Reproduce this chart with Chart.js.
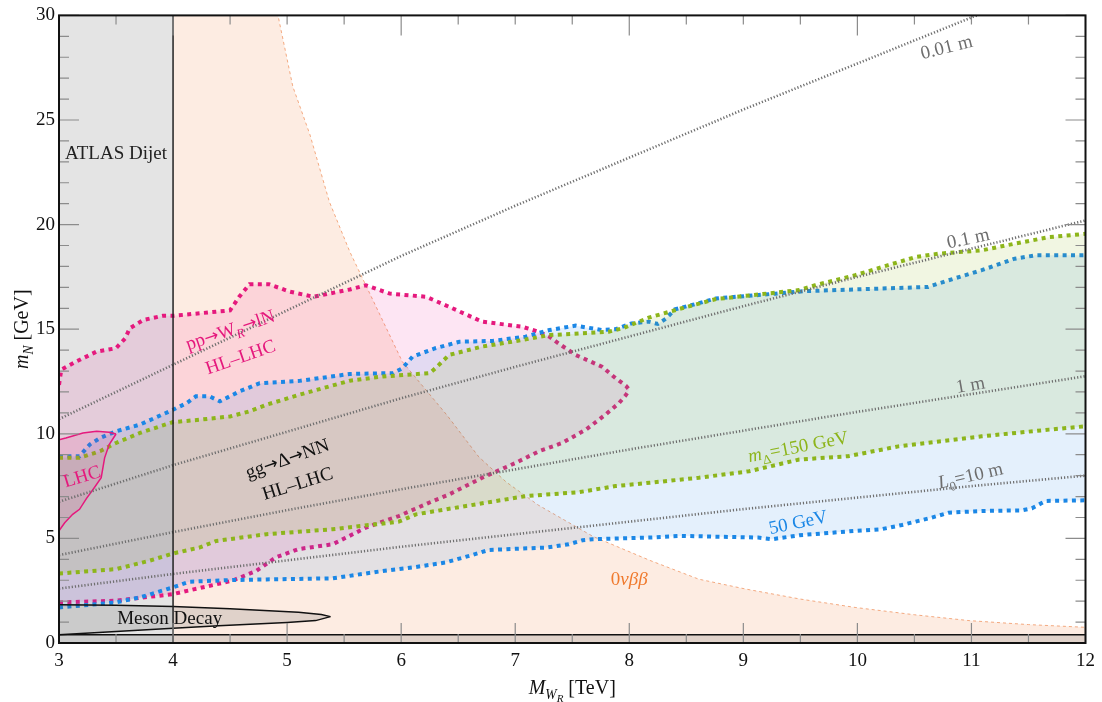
<!DOCTYPE html>
<html>
<head>
<meta charset="utf-8">
<script src="https://cdn.jsdelivr.net/npm/chart.js@4.4.1/dist/chart.umd.min.js"></script>
<style>
  html, body { margin: 0; padding: 0; background: #fff; }
  #wrap { width: 1102px; height: 702px; }
</style>
</head>
<body>
<div id="wrap"><canvas id="limits_chart" width="1102" height="702"></canvas></div>
<script>
// ---- data (x = M_WR in TeV, y = m_N in GeV) ----
const x_ticks = [3, 4, 5, 6, 7, 8, 9, 10, 11, 12];
const y_ticks = [0, 5, 10, 15, 20, 25, 30];

const atlas_x = [3, 4];
const atlas_y = [30, 30];

const onbb_x = [4, 4.92, 5.05, 5.2, 5.37, 5.55, 6.01, 6.4, 6.68, 6.92, 7.2, 7.68, 8.18, 8.61, 9.02, 9.5, 9.98, 10.5, 10.98, 11.5, 12];
const onbb_y = [30, 30, 26.6, 24.3, 21.1, 18.7, 13.45, 10.9, 8.9, 7.7, 6.6, 5.1, 3.95, 3.05, 2.58, 2.1, 1.7, 1.35, 1.07, 0.88, 0.75];

const floor_x = [3, 12];
const floor_y = [0.4, 0.4];

const meson_up_x = [3, 3.5, 4, 4.5, 5.1, 5.3, 5.38];
const meson_up_y = [1.83, 1.8, 1.74, 1.64, 1.47, 1.36, 1.26];
const meson_lo_x = [3, 3.5, 4, 4.4, 5.0, 5.25, 5.38];
const meson_lo_y = [0.4, 0.55, 0.7, 0.82, 0.98, 1.07, 1.26];

const pp_up_x = [3, 3.02, 3.15, 3.33, 3.5, 3.58, 3.62, 3.74, 3.91, 4, 4.5, 4.58, 4.67, 4.84, 5.02, 5.23, 5.55, 5.69, 5.9, 6.22, 6.42, 6.71, 7.06, 7.2, 7.3, 7.38, 7.53, 7.76, 7.88, 7.97, 8];
const pp_up_y = [12.34, 13.07, 13.45, 13.93, 14.09, 14.56, 15.04, 15.44, 15.64, 15.64, 15.9, 16.55, 17.15, 17.15, 16.8, 16.55, 16.9, 17.1, 16.7, 16.55, 16.07, 15.36, 15.12, 14.88, 14.64, 14.32, 13.77, 13.21, 12.66, 12.3, 12.1];
const pp_lo_x = [3, 3.5, 4, 4.52, 4.73, 4.9, 5.1, 5.4, 5.69, 5.81, 5.98, 6.28, 6.42, 6.71, 7.0, 7.21, 7.41, 7.62, 7.79, 7.91, 7.97, 8];
const pp_lo_y = [1.94, 2.02, 2.34, 2.98, 3.45, 4.09, 4.49, 4.72, 5.51, 5.75, 6.07, 6.79, 7.1, 7.9, 8.6, 9.17, 9.56, 10.2, 10.91, 11.47, 11.85, 12.1];

const lhc_up_x = [3, 3.06, 3.21, 3.33, 3.44, 3.5];
const lhc_up_y = [9.72, 9.8, 10.04, 10.12, 10.07, 9.99];
const lhc_lo_x = [3, 3.05, 3.12, 3.18, 3.24, 3.3, 3.37, 3.4, 3.44, 3.5];
const lhc_lo_y = [5.36, 5.75, 6.15, 6.39, 6.9, 7.35, 7.9, 8.85, 9.49, 9.99];

const blue_up_x = [3, 3.18, 3.27, 3.36, 3.5, 3.71, 4, 4.12, 4.2, 4.32, 4.41, 4.58, 4.76, 5.11, 5.55, 5.93, 6.01, 6.1, 6.3, 6.51, 6.8, 7.09, 7.3, 7.53, 7.76, 7.88, 8.02, 8.17, 8.25, 8.32, 8.4, 8.58, 8.76, 9.28, 9.54, 10.62, 10.8, 11.09, 11.38, 11.56, 12];
const blue_up_y = [8.93, 8.93, 9.49, 9.8, 10.12, 10.44, 11.15, 11.47, 11.79, 11.79, 11.55, 12.02, 12.42, 12.53, 12.86, 12.9, 13.13, 13.69, 14.09, 14.4, 14.44, 14.64, 14.96, 15.17, 14.96, 15.0, 15.28, 15.36, 15.25, 15.5, 15.95, 16.2, 16.47, 16.7, 16.82, 17.02, 17.34, 17.82, 18.37, 18.53, 18.53];
const blue_lo_x = [3, 3.36, 3.5, 3.71, 4, 4.14, 4.52, 4.82, 5.4, 5.81, 6.1, 6.39, 6.6, 6.77, 7.27, 7.47, 7.59, 7.68, 8.18, 8.46, 9.13, 9.25, 9.49, 9.98, 10.21, 10.39, 10.65, 10.8, 11.09, 11.44, 11.53, 11.65, 12];
const blue_lo_y = [1.7, 1.87, 1.94, 2.18, 2.66, 2.93, 3.01, 3.04, 3.09, 3.42, 3.61, 3.85, 4.17, 4.45, 4.56, 4.72, 4.91, 4.96, 5.04, 5.12, 5.04, 4.96, 5.15, 5.36, 5.44, 5.64, 5.99, 6.23, 6.31, 6.34, 6.44, 6.79, 6.82];

const green_up_x = [3, 3.18, 3.36, 3.5, 3.71, 4, 4.23, 4.5, 4.67, 4.82, 5.11, 5.55, 5.84, 6.25, 6.3, 6.42, 6.71, 7.06, 7.3, 7.59, 7.82, 7.94, 8.17, 8.46, 8.76, 9.49, 9.63, 9.98, 10.27, 10.51, 10.71, 11.09, 11.38, 11.68, 12];
const green_up_y = [8.85, 8.85, 9.17, 9.56, 10.04, 10.56, 10.67, 10.83, 11.07, 11.39, 11.87, 12.54, 12.74, 12.9, 13.13, 13.77, 14.17, 14.48, 14.72, 14.8, 14.88, 15.04, 15.55, 16.0, 16.44, 16.87, 17.1, 17.58, 18.06, 18.45, 18.61, 18.77, 19.09, 19.4, 19.56];
const green_lo_x = [3, 3.5, 3.79, 4, 4.23, 4.38, 4.82, 5.4, 5.98, 6.13, 6.57, 7.09, 7.56, 7.88, 8.18, 8.61, 9.05, 9.49, 9.92, 10.36, 11.09, 11.68, 12];
const green_lo_y = [3.32, 3.53, 3.93, 4.28, 4.56, 4.88, 5.2, 5.44, 5.8, 6.15, 6.55, 7.02, 7.21, 7.5, 7.66, 7.9, 8.21, 8.77, 8.93, 9.4, 9.88, 10.2, 10.36];

// decay-length contours, read at whole TeV steps
const len_x = [3, 4, 5, 6, 7, 8, 9, 10, 11, 12];
const len_001m = [10.7, 13.3, 15.9, 18.5, 20.9, 23.2, 25.5, 27.7, 29.9, 32.0];
const len_01m = [6.75, 8.5, 10.1, 11.7, 13.2, 14.65, 16.1, 17.5, 18.85, 20.2];
const len_1m = [4.2, 5.3, 6.35, 7.35, 8.3, 9.25, 10.15, 11.05, 11.9, 12.75];
const len_10m = [2.6, 3.3, 3.95, 4.6, 5.2, 5.8, 6.4, 6.95, 7.5, 8.0];

// ---- styles ----
const SERIF = '"Liberation Serif", "DejaVu Serif", serif';
const ARROW_FONT = '"DejaVu Sans", sans-serif';
const PINK = "#e5197d";
const BLUE = "#1b87e6";
const GREEN = "#8db51b";
const GREY_LINE = "#6f6f6f";

function pts(xs, ys) {
  return xs.map((x, i) => ({ x: x, y: ys[i] }));
}

const datasets = [];
function add(xs, ys, style) {
  datasets.push(
    Object.assign(
      {
        data: pts(xs, ys),
        pointRadius: 0,
        borderWidth: 0,
        borderColor: "rgba(0,0,0,0)",
        backgroundColor: "rgba(0,0,0,0)",
        fill: false,
        tension: 0,
      },
      style
    )
  );
}

const dotted = (color) => ({ borderColor: color, borderWidth: 4, borderDash: [4, 4.4] });
const hairDots = { borderColor: GREY_LINE, borderWidth: 2.6, borderDash: [1.2, 2] };

// back to front
add(atlas_x, atlas_y, { fill: "origin", backgroundColor: "#e4e4e4" });
add(onbb_x, onbb_y, {
  fill: "origin",
  backgroundColor: "rgba(245,160,110,0.2)",
  borderColor: "rgba(240,150,100,0.8)",
  borderWidth: 1,
  borderDash: [3, 3],
});
add(floor_x, floor_y, { fill: "origin", backgroundColor: "rgba(90,90,90,0.18)", borderColor: "#111", borderWidth: 1.5 });
add(pp_up_x, pp_up_y, Object.assign({ fill: "+1", backgroundColor: "rgba(236,0,140,0.1)" }, dotted(PINK)));
add(pp_lo_x, pp_lo_y, dotted(PINK));
add(blue_up_x, blue_up_y, Object.assign({ fill: "+1", backgroundColor: "rgba(30,130,230,0.12)" }, dotted(BLUE)));
add(blue_lo_x, blue_lo_y, dotted(BLUE));
add(green_up_x, green_up_y, Object.assign({ fill: "+1", backgroundColor: "rgba(140,180,20,0.12)" }, dotted(GREEN)));
add(green_lo_x, green_lo_y, dotted(GREEN));
add(lhc_up_x, lhc_up_y, { fill: "+1", backgroundColor: "rgba(230,25,125,0.12)", borderColor: PINK, borderWidth: 1.5 });
add(lhc_lo_x, lhc_lo_y, { borderColor: PINK, borderWidth: 1.5 });
add(meson_up_x, meson_up_y, { fill: "+1", backgroundColor: "rgba(90,90,90,0.18)", borderColor: "#111", borderWidth: 1.5 });
add(meson_lo_x, meson_lo_y, { borderColor: "#111", borderWidth: 1.5 });
add(len_x, len_001m, hairDots);
add(len_x, len_01m, hairDots);
add(len_x, len_1m, hairDots);
add(len_x, len_10m, hairDots);
add([4, 4], [0, 30], { borderColor: "#222", borderWidth: 1.5 });

datasets.forEach((d, i) => (d.order = datasets.length - i));

// text on the plot: [text, style] pieces
// style: i = italic, s = subscript, ss = second level subscript, a = arrow glyph
const notes = [
  { x: 3.5, y: 23.45, rot: 0, color: "#222", parts: [["ATLAS Dijet", ""]] },
  { x: 4.5, y: 14.98, rot: -18.6, color: PINK, parts: [["pp", ""], ["\u2192", "a"], ["W", ""], ["R", "si"], ["\u2192", "a"], ["lN", ""]] },
  { x: 4.59, y: 13.69, rot: -19, color: PINK, parts: [["HL\u2013LHC", ""]] },
  { x: 5.0, y: 8.83, rot: -19.4, color: "#111", parts: [["gg", ""], ["\u2192", "a"], ["\u0394", ""], ["\u2192", "a"], ["NN", ""]] },
  { x: 5.09, y: 7.64, rot: -17.5, color: "#111", parts: [["HL\u2013LHC", ""]] },
  { x: 3.2, y: 7.98, rot: -17, color: PINK, parts: [["LHC", ""]] },
  { x: 3.97, y: 1.21, rot: 0, color: "#111", parts: [["Meson Decay", ""]] },
  { x: 8.0, y: 3.07, rot: 0, color: "#f07a2e", parts: [["0", ""], ["\u03bd\u03b2\u03b2", "i"]] },
  { x: 10.78, y: 28.5, rot: -14, color: "#6e6e6e", parts: [["0.01 m", ""]] },
  { x: 10.97, y: 19.36, rot: -12, color: "#6e6e6e", parts: [["0.1 m", ""]] },
  { x: 10.99, y: 12.36, rot: -10, color: "#6e6e6e", parts: [["1 m", ""]] },
  { x: 9.48, y: 9.4, rot: -11, color: GREEN, parts: [["m", "i"], ["\u0394", "s"], ["=150 GeV", ""]] },
  { x: 10.99, y: 8.02, rot: -13, color: "#6e6e6e", parts: [["L", "i"], ["0", "s"], ["=10 m", ""]] },
  { x: 9.48, y: 5.79, rot: -12, color: BLUE, parts: [["50 GeV", ""]] },
];

function pieceFont(style, size) {
  if (style === "a") return (size * 0.9).toFixed(1) + "px " + ARROW_FONT;
  let s = size;
  if (style.indexOf("ss") >= 0) s = size * 0.55;
  else if (style.indexOf("s") >= 0) s = size * 0.68;
  return (style.indexOf("i") >= 0 ? "italic " : "") + s.toFixed(1) + "px " + SERIF;
}
function pieceDrop(style, size) {
  if (style.indexOf("ss") >= 0) return size * 0.42;
  if (style.indexOf("s") >= 0) return size * 0.25;
  if (style === "a") return -size * 0.02;
  return 0;
}

function drawRich(ctx, parts, cx, cy, rot, size, color) {
  let total = 0;
  const widths = parts.map((p) => {
    ctx.font = pieceFont(p[1], size);
    const w = ctx.measureText(p[0]).width;
    total += w;
    return w;
  });
  ctx.save();
  ctx.translate(cx, cy);
  ctx.rotate((rot * Math.PI) / 180);
  ctx.fillStyle = color;
  ctx.textBaseline = "alphabetic";
  ctx.textAlign = "left";
  let x = -total / 2;
  parts.forEach((p, i) => {
    ctx.font = pieceFont(p[1], size);
    ctx.fillText(p[0], x, size * 0.33 + pieceDrop(p[1], size));
    x += widths[i];
  });
  ctx.restore();
}

const framePlugin = {
  id: "frame",
  afterDatasetsDraw(chart) {
    const ctx = chart.ctx;
    const a = chart.chartArea;
    const xs = chart.scales.x;
    const ys = chart.scales.y;
    ctx.save();
    ctx.strokeStyle = "#8c8c8c";
    ctx.lineWidth = 1.2;
    ctx.beginPath();
    for (let v = 3; v <= 12.001; v += 0.5) {
      const px = xs.getPixelForValue(v);
      const whole = Math.abs(v - Math.round(v)) < 1e-6;
      const bottomLen = whole ? 20 : 9;
      const topLen = whole && Math.round(v) % 2 === 0 ? 20 : 9;
      ctx.moveTo(px, a.bottom);
      ctx.lineTo(px, a.bottom - bottomLen);
      ctx.moveTo(px, a.top);
      ctx.lineTo(px, a.top + topLen);
    }
    for (let v = 0; v <= 30; v += 1) {
      const py = ys.getPixelForValue(v);
      const len = v % 5 === 0 ? 20 : 10;
      ctx.moveTo(a.left, py);
      ctx.lineTo(a.left + len, py);
      ctx.moveTo(a.right, py);
      ctx.lineTo(a.right - len, py);
    }
    ctx.stroke();
    ctx.strokeStyle = "#111";
    ctx.lineWidth = 2;
    ctx.strokeRect(a.left, a.top, a.right - a.left, a.bottom - a.top);
    ctx.restore();

    notes.forEach((n) => {
      drawRich(ctx, n.parts, xs.getPixelForValue(n.x), ys.getPixelForValue(n.y), n.rot, 19, n.color);
    });

    // axis titles
    drawRich(ctx, [["M", "i"], ["W", "si"], ["R", "ssi"], [" [TeV]", ""]], (a.left + a.right) / 2, 687, 0, 20, "#111");
    drawRich(ctx, [["m", "i"], ["N", "si"], [" [GeV]", ""]], 21, (a.top + a.bottom) / 2, -90, 20, "#111");
  },
};

const tick_font = { family: SERIF, size: 19 };

new Chart(document.getElementById("limits_chart"), {
  type: "line",
  data: { datasets: datasets },
  options: {
    responsive: false,
    animation: false,
    layout: { padding: { top: 12, right: 15, left: 0, bottom: 0 } },
    plugins: { legend: { display: false }, tooltip: { enabled: false } },
    scales: {
      x: {
        type: "linear",
        min: 3,
        max: 12,
        afterBuildTicks: (s) => (s.ticks = x_ticks.map((v) => ({ value: v }))),
        afterFit: (s) => (s.height = 59),
        grid: { display: false, drawTicks: false },
        border: { display: false },
        ticks: { font: tick_font, color: "#111", padding: 7, maxRotation: 0 },
      },
      y: {
        type: "linear",
        min: 0,
        max: 30,
        afterBuildTicks: (s) => (s.ticks = y_ticks.map((v) => ({ value: v }))),
        afterFit: (s) => (s.width = 59),
        grid: { display: false, drawTicks: false },
        border: { display: false },
        ticks: { font: tick_font, color: "#111", padding: 4 },
      },
    },
  },
  plugins: [framePlugin],
});
</script>
</body>
</html>
